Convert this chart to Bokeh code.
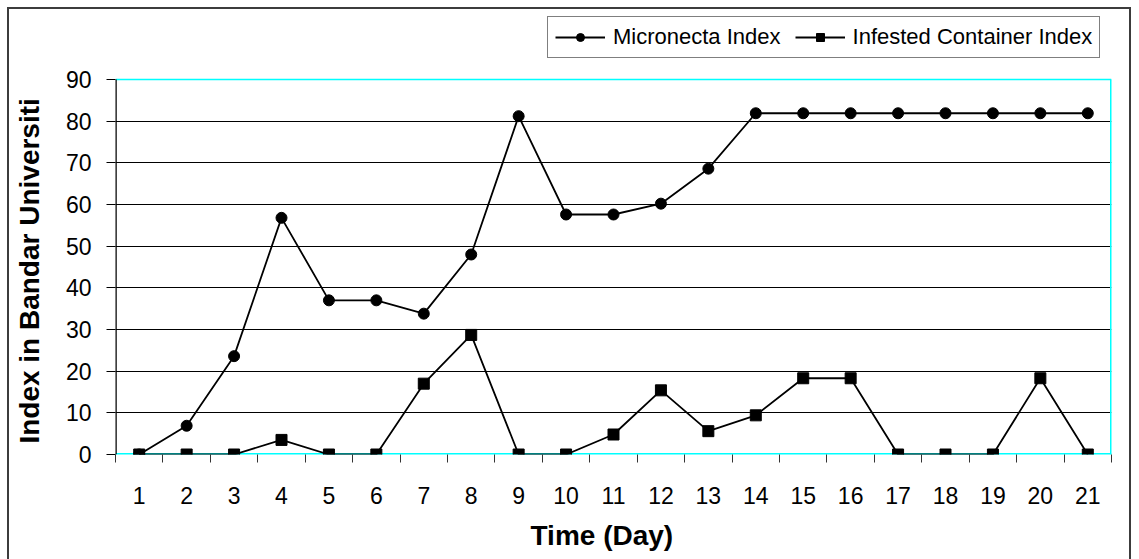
from bokeh.plotting import figure
from bokeh.models import (ColumnDataSource, FixedTicker, Legend, LegendItem, Range1d)
from bokeh.embed import file_html
from bokeh.resources import INLINE

# ---- data ----
days = list(range(1, 22))
micronecta = [0, 6.9, 23.6, 56.8, 37.0, 37.0, 33.8, 48.0, 81.2, 57.6, 57.6,
              60.2, 68.6, 81.9, 81.9, 81.9, 81.9, 81.9, 81.9, 81.9, 81.9]
infested = [0, 0, 0, 3.5, 0, 0, 17.0, 28.7, 0, 0, 4.8,
            15.4, 5.6, 9.4, 18.3, 18.3, 0, 0, 0, 18.3, 0]
y_ticks = [0, 10, 20, 30, 40, 50, 60, 70, 80, 90]
x_label = "Time (Day)"
y_label = "Index in Bandar Universiti"
series_names = ["Micronecta Index", "Infested Container Index"]

src = ColumnDataSource(dict(day=days, mic=micronecta, inf=infested))

FONT = "Liberation Sans"
NBSP = "\u00a0"

# plot area: value axis 0..90 drawn over 375 px; the frame extends above it
# so that the legend (which Bokeh clips to the frame) can sit on top.
X0, X1 = days[0] - 0.5, days[-1] + 0.5
Y0, Y1 = y_ticks[0], y_ticks[-1]
AXIS_PX = 375
FRAME_PX = 445
y_top = Y1 * FRAME_PX / AXIS_PX

p = figure(frame_width=996, frame_height=FRAME_PX,
           min_border_left=106, min_border_right=18,
           min_border_top=0, min_border_bottom=105,
           x_range=Range1d(X0, X1), y_range=Range1d(Y0, y_top),
           output_backend="svg", toolbar_location=None,
           background_fill_color="white", border_fill_color="white")

# outer chart border (left, top and right edges as in the reference)
p.styles = {"margin-left": "7px", "margin-top": "7px",
            "border-left": "2px solid #3c3c3c",
            "border-top": "2px solid #3c3c3c",
            "border-right": "2px solid #3c3c3c"}

p.outline_line_color = None

# grid
p.xgrid.visible = False
p.ygrid.ticker = FixedTicker(ticks=y_ticks[1:-1])
p.ygrid.grid_line_color = "black"
p.ygrid.grid_line_width = 1

# plot-area border: cyan top/right/bottom, black value-axis line on the left
p.segment(x0=[X0, X1, X0], y0=[Y1, Y0, Y0], x1=[X1, X1, X1], y1=[Y1, Y1, Y0],
          line_color="#00FFFF", line_width=[1.5, 3, 3])
p.segment(x0=[X0], y0=[Y0], x1=[X0], y1=[Y1], line_color="black", line_width=2.5)

# x axis
xa = p.xaxis[0]
xa.ticker = FixedTicker(ticks=days, minor_ticks=[d - 0.5 for d in days] + [X1])
xa.major_tick_out = 0
xa.major_tick_in = 0
xa.minor_tick_out = 8
xa.minor_tick_in = 0
xa.minor_tick_line_color = "#333333"
xa.axis_line_color = None
xa.major_label_standoff = 24
xa.major_label_text_font = FONT
xa.major_label_text_font_size = "23px"
xa.major_label_text_color = "black"
# trailing no-break spaces nudge the centred title to the reference position
xa.axis_label = x_label + NBSP * 3
xa.axis_label_text_font = FONT
xa.axis_label_text_font_style = "bold"
xa.axis_label_text_font_size = "28px"
xa.axis_label_text_color = "black"
xa.axis_label_standoff = 13

# y axis
ya = p.yaxis[0]
ya.ticker = FixedTicker(ticks=y_ticks)
ya.major_tick_out = 9
ya.major_tick_in = 0
ya.minor_tick_out = 0
ya.minor_tick_in = 0
ya.major_tick_line_color = "black"
ya.axis_line_color = None
ya.major_label_standoff = 15
ya.major_label_text_font = FONT
ya.major_label_text_font_size = "23px"
ya.major_label_text_color = "black"
# the frame is taller than the value axis; pad so the title centres on 0..90
ya.axis_label = y_label + NBSP * 10
ya.axis_label_text_font = FONT
ya.axis_label_text_font_style = "bold"
ya.axis_label_text_font_size = "28px"
ya.axis_label_text_color = "black"
ya.axis_label_standoff = 18

# series
l1 = p.line("day", "mic", source=src, line_color="black", line_width=1.8)
m1 = p.scatter("day", "mic", source=src, marker="circle", size=11,
               fill_color="black", line_color="black")
l2 = p.line("day", "inf", source=src, line_color="black", line_width=1.8)
m2 = p.scatter("day", "inf", source=src, marker="square", size=11,
               fill_color="black", line_color="black")

legend = Legend(items=[LegendItem(label=series_names[0], renderers=[l1, m1]),
                       LegendItem(label=series_names[1], renderers=[l2, m2])],
                location=(432, 396), orientation="horizontal",
                border_line_color="black", border_line_width=1,
                background_fill_color="white", background_fill_alpha=1,
                padding=7, margin=0, spacing=14, glyph_width=50, glyph_height=20,
                label_standoff=8, label_text_font=FONT,
                label_text_font_size="22px", label_text_color="black")
p.add_layout(legend)

open("out.html", "w").write(file_html(p, INLINE))
